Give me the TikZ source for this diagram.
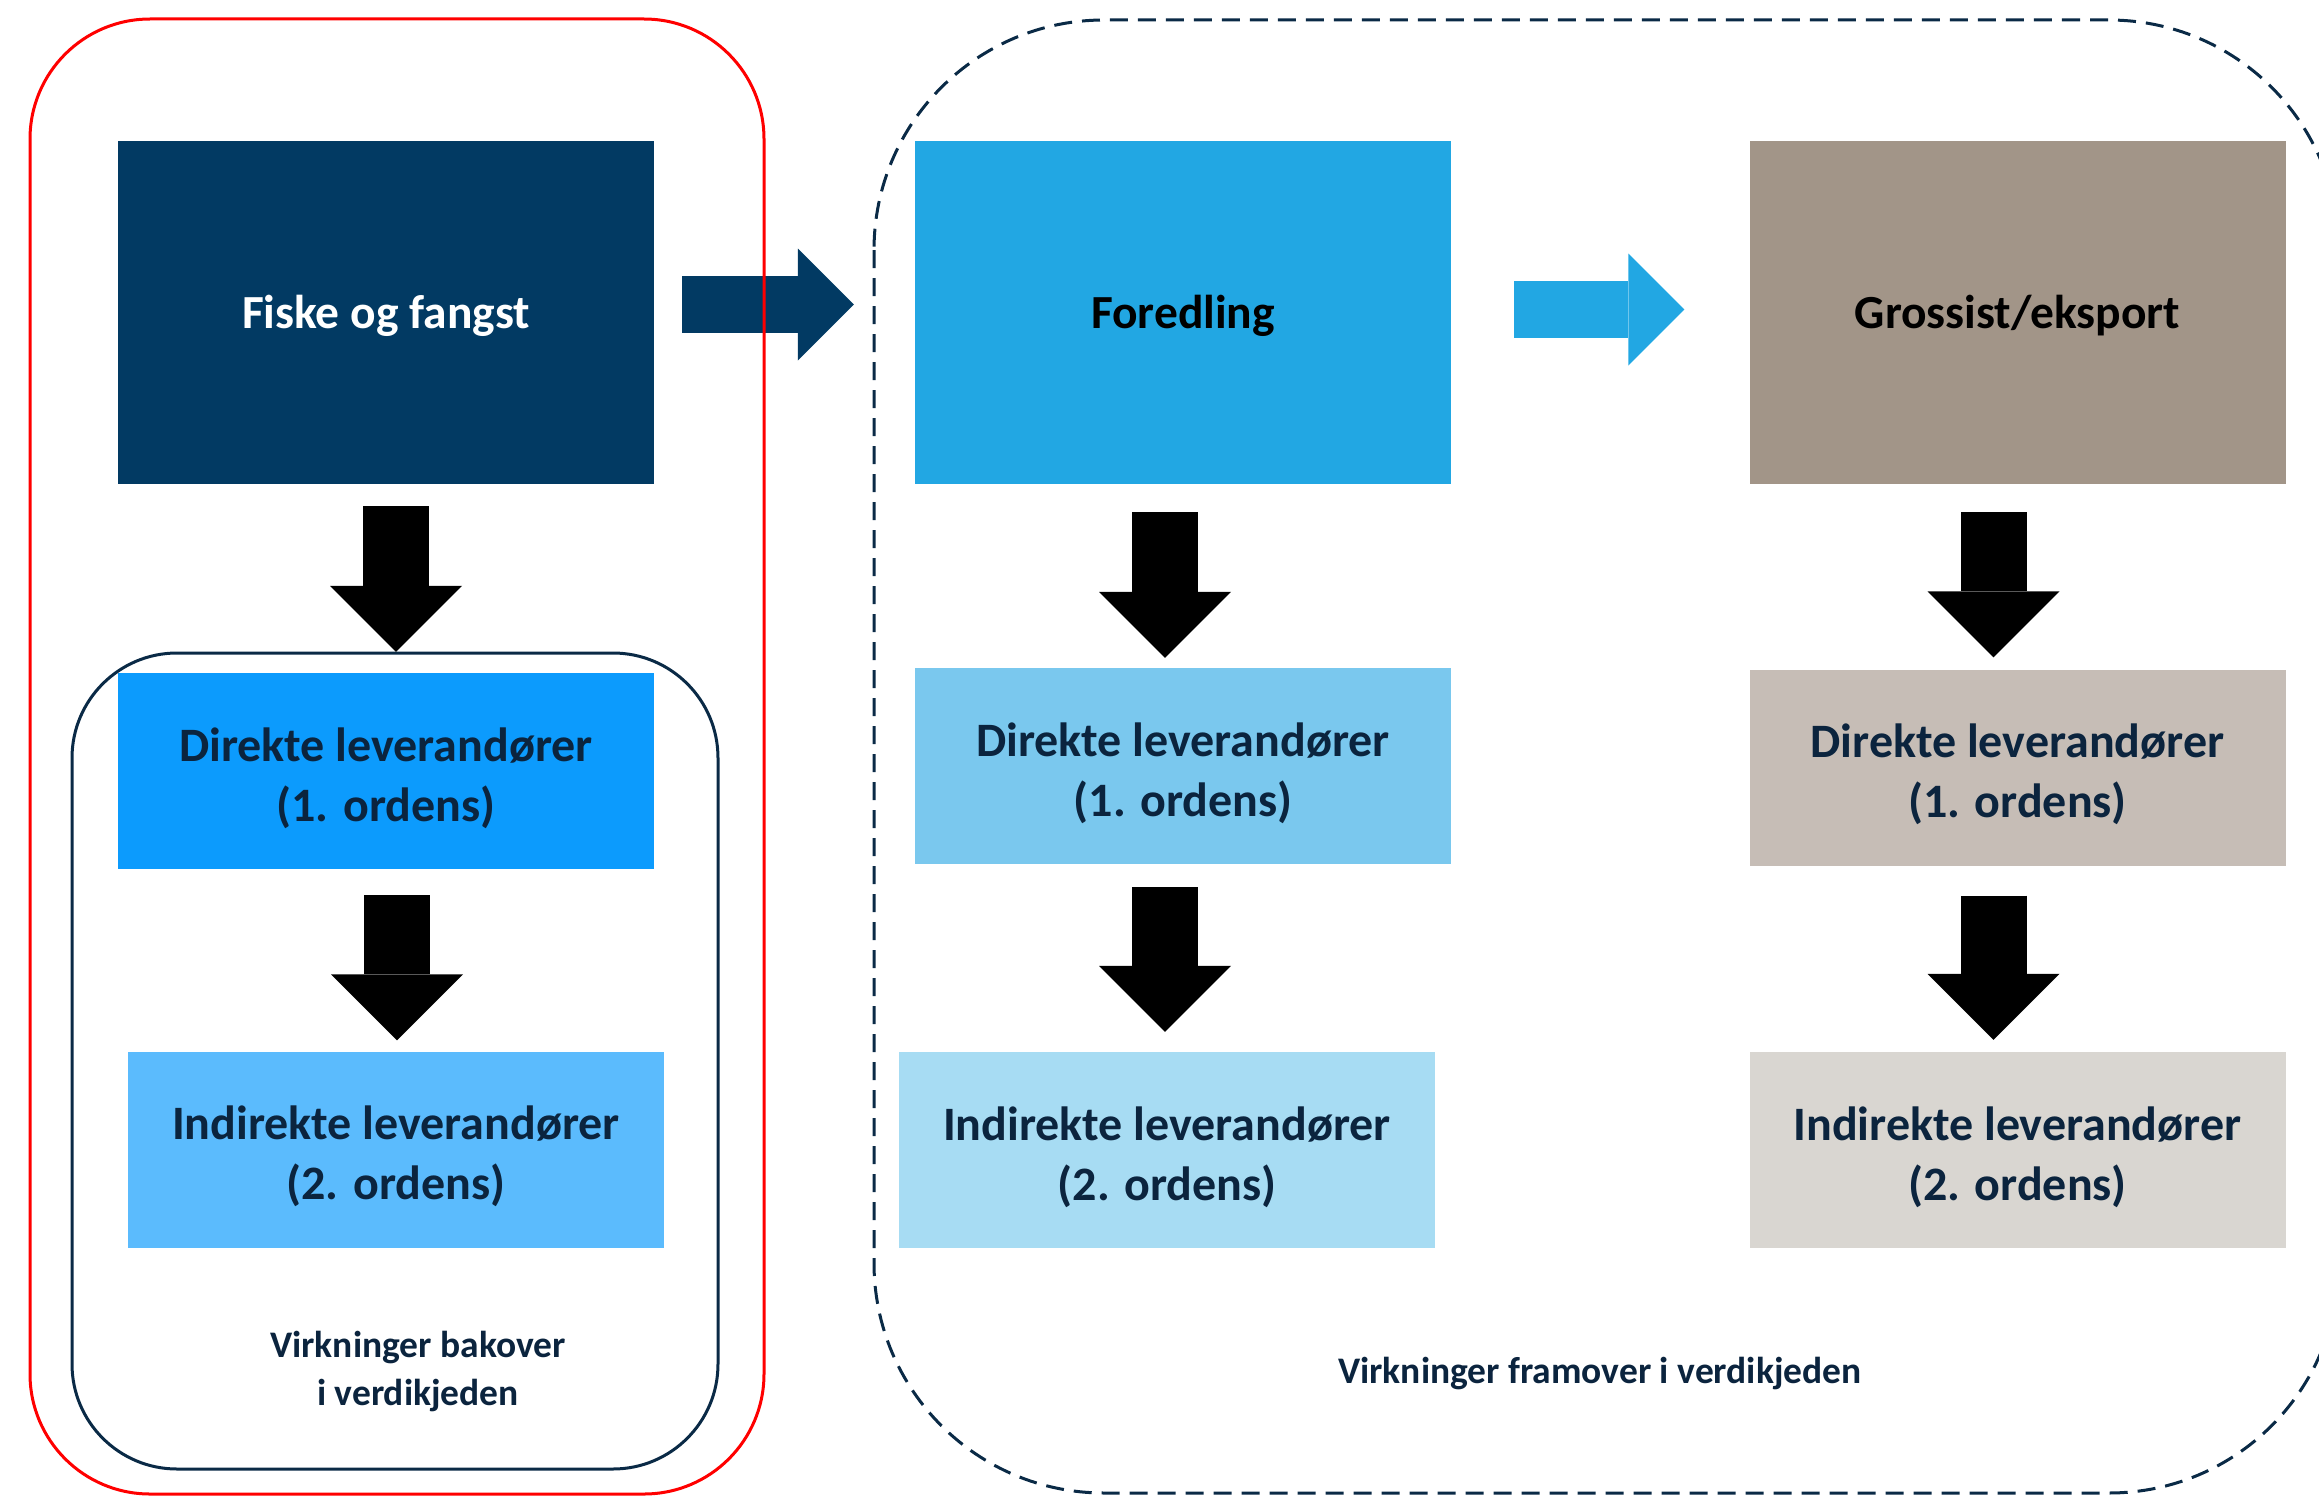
\documentclass[tikz,border=0pt]{standalone}
\usepackage{fontspec}
\setmainfont{Carlito}
\usetikzlibrary{arrows.meta}
\definecolor{marine}{RGB}{2,58,99}
\definecolor{himmel}{RGB}{34,167,227}
\definecolor{grastein}{RGB}{162,149,136}
\definecolor{blaaA}{RGB}{12,155,253}
\definecolor{blaaB}{RGB}{91,187,253}
\definecolor{lysA}{RGB}{122,200,238}
\definecolor{lysB}{RGB}{167,220,243}
\definecolor{sandA}{RGB}{198,189,182}
\definecolor{sandB}{RGB}{217,214,209}
\definecolor{tekstblaa}{RGB}{11,36,62}
\definecolor{rammeblaa}{RGB}{10,42,70}
\newcommand{\luft}{\rule{0pt}{48pt}}

\tikzset{
  hovedboks/.style={rectangle, inner sep=0pt, minimum width=536pt, minimum height=343pt,
    align=center, font=\fontsize{47.5}{58}\selectfont\bfseries,
    execute at begin node={\rule{0pt}{40pt}}},
  levboks/.style={rectangle, inner sep=0pt, minimum width=536pt, minimum height=196pt,
    align=center, text=tekstblaa, font=\fontsize{48}{60}\selectfont\bfseries},
  etikett/.style={align=center, text=tekstblaa, font=\fontsize{37.5}{48}\selectfont\bfseries},
  nedpil/.style={line width=66pt, -{Triangle[width=132pt,length=66pt,line width=0pt]}},
  sidepil/.style={line width=57pt, -{Triangle[width=112pt,length=56pt,line width=0pt]}}
}

\begin{document}
\begin{tikzpicture}[x=1pt,y=-1pt]
        \useasboundingbox (0,0) rectangle (2319,1496);
        % ramme framover
        \draw[rammeblaa, line width=3pt, dash pattern=on 18pt off 10pt, rounded corners=230pt] (874,20) rectangle (2339,1493);
        % ramme bakover
        \draw[rammeblaa, line width=3pt, rounded corners=105pt] (72,653) rectangle (718,1469);
        % ledd i verdikjeden
        \node[hovedboks, fill=marine, text=white] (fiske) at (386,312.5) {Fiske og fangst};
        \node[hovedboks, fill=himmel, text=black] (foredling) at (1183,312.5) {Foredling};
        \node[hovedboks, fill=grastein, text=black] (grossist) at (2017.5,312.5) {Grossist/eksport};
        % leverandorer
        \node[levboks, fill=blaaA] (dir1) at (386,771) {\luft Direkte leverandører\\(1. ordens)};
        \node[levboks, fill=blaaB] (ind1) at (396,1149.5) {\luft Indirekte leverandører\\(2. ordens)};
        \node[levboks, fill=lysA] (dir2) at (1183,766) {\luft Direkte leverandører\\(1. ordens)};
        \node[levboks, fill=lysB] (ind2) at (1167,1150) {\luft Indirekte leverandører\\(2. ordens)};
        \node[levboks, fill=sandA] (dir3) at (2017.5,767.5) {\luft Direkte leverandører\\(1. ordens)};
        \node[levboks, fill=sandB] (ind3) at (2017.5,1150) {\luft Indirekte leverandører\\(2. ordens)};
        % tekst
        \node[etikett] (bakover) at (418,1371) {Virkninger bakover\\i verdikjeden};
        \node[etikett] (framover) at (1600,1374) {Virkninger framover i verdikjeden};
        % piler nedover
        \draw[nedpil, shorten <=22pt, shorten >=21pt] ([xshift=10pt]fiske.south) -- ([xshift=10pt]dir1.north);
        \draw[nedpil, shorten <=26pt, shorten >=11pt] ([xshift=11pt]dir1.south) -- ([xshift=11pt]dir1.south |- ind1.north);
        \draw[nedpil, shorten <=28pt, shorten >=10pt] ([xshift=-18pt]foredling.south) -- ([xshift=-18pt]dir2.north);
        \draw[nedpil, shorten <=23pt, shorten >=20pt] ([xshift=-18pt]dir2.south) -- ([xshift=-18pt]dir2.south |- ind2.north);
        \draw[nedpil, shorten <=28pt, shorten >=12pt] ([xshift=-24pt]grossist.south) -- ([xshift=-24pt]dir3.north);
        \draw[nedpil, shorten <=30pt, shorten >=12pt] ([xshift=-24pt]dir3.south) -- ([xshift=-24pt]ind3.north);
        % piler framover
        \draw[sidepil, marine, shorten <=28pt, shorten >=61pt] ([yshift=8pt]fiske.east) -- ([yshift=8pt]foredling.west);
        \draw[sidepil, himmel, shorten <=63pt, shorten >=65pt] ([yshift=3pt]foredling.east) -- ([yshift=3pt]grossist.west);
        % ramme rundt fiske
        \draw[red, line width=3pt, rounded corners=120pt] (30,19) rectangle (764,1494);
\end{tikzpicture}
\end{document}
